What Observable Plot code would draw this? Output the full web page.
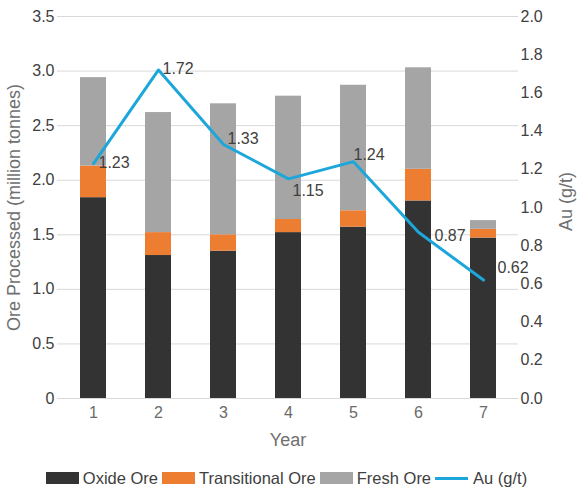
<!DOCTYPE html>
<html>
<head>
<meta charset="utf-8">
<script src="https://cdn.jsdelivr.net/npm/d3@7"></script>
<script src="https://cdn.jsdelivr.net/npm/@observablehq/plot@0.6"></script>
<style>
  body { margin: 0; background: #fff; font-family: "Liberation Sans", Arial, sans-serif; }
  #chart { width: 577px; }
  .legend { display: flex; justify-content: center; align-items: center; margin-top: 14px;
            font-size: 16.5px; color: #404040; line-height: 18px; width: 577px; }
  .legend .item { display: flex; align-items: center; margin-right: 4px; }
  .legend .sw { width: 33px; height: 12px; margin-right: 4px; }
  .legend .ln { width: 33px; height: 3px; margin-right: 5px; }
</style>
</head>
<body>
<div id="chart"></div>
<script>
// Ore processed per year (million tonnes) by ore type, and head grade
const years = ["1", "2", "3", "4", "5", "6", "7"];
const oxideOre = [1.84, 1.31, 1.35, 1.52, 1.57, 1.81, 1.47];
const transitionalOre = [0.29, 0.21, 0.15, 0.12, 0.15, 0.29, 0.08];
const freshOre = [0.81, 1.10, 1.20, 1.13, 1.15, 0.93, 0.08];
const auGrade = [1.23, 1.72, 1.33, 1.15, 1.24, 0.87, 0.62];

const seriesNames = ["Oxide Ore", "Transitional Ore", "Fresh Ore"];
const seriesColors = ["#333333", "#ED7D31", "#A5A5A5"];
const lineName = "Au (g/t)";
const lineColor = "#1DA6DA";

const oreTicks = [0, 0.5, 1.0, 1.5, 2.0, 2.5, 3.0, 3.5];
const auTicks = [0, 0.2, 0.4, 0.6, 0.8, 1.0, 1.2, 1.4, 1.6, 1.8, 2.0];

// the grade axis (0–2.0) is mapped onto the tonnage axis (0–3.5)
const k = 3.5 / 2.0;

const ore = years.flatMap((year, i) => [
  {year, type: seriesNames[0], value: oxideOre[i]},
  {year, type: seriesNames[1], value: transitionalOre[i]},
  {year, type: seriesNames[2], value: freshOre[i]}
]);
const grade = years.map((year, i) => ({year, au: auGrade[i]}));

const textColor = "#404040";
const titleColor = "#707070";
const fontFamily = "'Liberation Sans', Arial, sans-serif";

// each grade label is nudged a little so it stays clear of the line, bars and axis
const labelNudges = [[5, -1], [4, -1], [4, -6], [4, 12], [0, -7], [16, 4], [14, -12]];
const gradeLabels = grade.map((d, i) =>
  Plot.text([d], {x: "year", y: g => g.au * k, text: g => g.au.toFixed(2),
    dx: labelNudges[i][0], dy: labelNudges[i][1], textAnchor: "start",
    fill: textColor, fontSize: 16}));

const chart = Plot.plot({
  width: 577,
  height: 455,
  marginTop: 16,
  marginBottom: 57,
  marginLeft: 57,
  marginRight: 59,
  style: {fontFamily, fontSize: "16px", background: "#fff"},
  x: {type: "band", domain: years, paddingInner: 0.6, paddingOuter: 0.3},
  y: {domain: [0, 3.5]},
  color: {domain: seriesNames, range: seriesColors},
  marks: [
    Plot.gridY(oreTicks, {stroke: "#d9d9d9", strokeOpacity: 1, strokeWidth: 1}),
    Plot.barY(ore, Plot.stackY({x: "year", y: "value", fill: "type", order: seriesNames})),
    Plot.lineY(grade, {x: "year", y: d => d.au * k, stroke: lineColor, strokeWidth: 3}),
    ...gradeLabels,
    Plot.axisY(oreTicks, {anchor: "left", tickSize: 0, tickPadding: 3, label: null,
      fill: textColor, fontSize: 16, tickFormat: d => d === 0 ? "0" : d.toFixed(1)}),
    Plot.axisY(auTicks.map(v => v * k), {anchor: "right", tickSize: 0, tickPadding: 2, label: null,
      fill: textColor, fontSize: 16, tickFormat: d => (d / k).toFixed(1)}),
    Plot.axisX({tickSize: 0, tickPadding: 8, label: null, fill: "#6a6a6a", fontSize: 16}),
    Plot.text(["Ore Processed (million tonnes)"], {frameAnchor: "left", dx: -43, rotate: -90,
      textAnchor: "middle", lineAnchor: "middle", fill: titleColor, fontSize: 18}),
    Plot.text([lineName], {frameAnchor: "right", dx: 48, dy: -6, rotate: -90,
      textAnchor: "middle", lineAnchor: "middle", fill: titleColor, fontSize: 18}),
    Plot.text(["Year"], {frameAnchor: "bottom", dy: 42,
      textAnchor: "middle", lineAnchor: "middle", fill: titleColor, fontSize: 18})
  ]
});

const root = document.getElementById("chart");
root.appendChild(chart);

// legend row under the chart
const legend = document.createElement("div");
legend.className = "legend";
seriesNames.forEach((name, i) => {
  const item = document.createElement("div");
  item.className = "item";
  const sw = document.createElement("span");
  sw.className = "sw";
  sw.style.background = seriesColors[i];
  const label = document.createElement("span");
  label.textContent = name;
  item.append(sw, label);
  legend.appendChild(item);
});
{
  const item = document.createElement("div");
  item.className = "item";
  const ln = document.createElement("span");
  ln.className = "ln";
  ln.style.background = lineColor;
  const label = document.createElement("span");
  label.textContent = lineName;
  item.append(ln, label);
  legend.appendChild(item);
}
root.appendChild(legend);
</script>
</body>
</html>
